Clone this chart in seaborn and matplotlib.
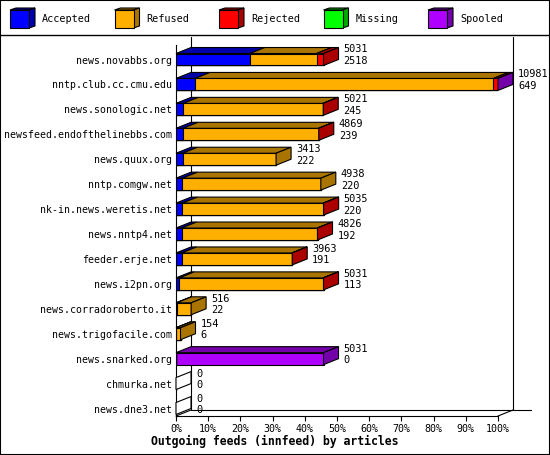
import numpy as np
import pandas as pd
import seaborn as sns
import matplotlib
matplotlib.use("Agg")
import matplotlib.pyplot as plt
from matplotlib.patches import Polygon, Rectangle

sns.set_theme(style="ticks", rc={"axes.edgecolor": "black", "xtick.color": "black",
                                 "ytick.color": "black", "text.color": "black"})
plt.rcParams["font.family"] = ["DejaVu Sans Mono", "DejaVu Sans"]

# %%
hosts = ["news.novabbs.org", "nntp.club.cc.cmu.edu", "news.sonologic.net",
         "newsfeed.endofthelinebbs.com", "news.quux.org", "nntp.comgw.net",
         "nk-in.news.weretis.net", "news.nntp4.net", "feeder.erje.net",
         "news.i2pn.org", "news.corradoroberto.it", "news.trigofacile.com",
         "news.snarked.org", "chmurka.net", "news.dne3.net"]
offered = [5031, 10981, 5021, 4869, 3413, 4938, 5035, 4826, 3963, 5031, 516, 154, 5031, 0, 0]
accepted = [2518, 649, 245, 239, 222, 220, 220, 192, 191, 113, 22, 6, 0, 0, 0]
refused = [2274, 10172, 4768, 4622, 3191, 4718, 4805, 4626, 3764, 4908, 494, 148, 0, 0, 0]
rejected = [239, 150, 8, 8, 0, 0, 10, 8, 8, 10, 0, 0, 0, 0, 0]
missing = [0] * 15
spooled = [0, 10, 0, 0, 0, 0, 0, 0, 0, 0, 0, 0, 5031, 0, 0]

series = ["Accepted", "Refused", "Rejected", "Missing", "Spooled"]
colors = ["#0000FF", "#FFAF00", "#FF0000", "#00FF00", "#AF00FF"]
darks = ["#0000AA", "#AA7400", "#AA0000", "#00AA00", "#7400AA"]

df = pd.DataFrame({"host": hosts, "Accepted": accepted, "Refused": refused,
                   "Rejected": rejected, "Missing": missing, "Spooled": spooled})
xmax = max(offered)
cum = df[series].cumsum(axis=1) / xmax

# %%
W, H = 550, 455
fig = plt.figure(figsize=(W / 100, H / 100), dpi=100)
fig.patch.set_facecolor("white")

# main axes: front plane from x=176..498 px, y=45..416 px
ax_l, ax_r, ax_t, ax_b = 176, 498, 45, 416
ax = fig.add_axes([ax_l / W, (H - ax_b) / H, (ax_r - ax_l) / W, (ax_b - ax_t) / H])

row0, ppr = 59.5, 24.93
ytop = -(row0 - ax_t) / ppr
ybot = (ax_b - row0) / ppr
ppx = ax_r - ax_l
dxd = 15 / ppx
dyd = 6 / ppr
bw = 0.48

for s, c in reversed(list(zip(series, colors))):
    sns.barplot(x=cum[s].values, y=hosts, color=c, saturation=1, width=bw,
                edgecolor="black", linewidth=0.8, orient="y", errorbar=None, ax=ax)

ax.set_xlim(0, 1)
ax.set_ylim(ybot, ytop)

# 3d top and side faces
for i in range(len(hosts)):
    t = i - bw / 2
    b = i + bw / 2
    prev = 0.0
    last = None
    for k, s in enumerate(series):
        x1 = cum[s].iloc[i]
        if x1 > prev:
            ax.add_patch(Polygon([(prev, t), (x1, t), (x1 + dxd, t - dyd), (prev + dxd, t - dyd)],
                                 closed=True, facecolor=darks[k], edgecolor="black",
                                 linewidth=0.8, clip_on=False, zorder=3))
            last = k
        prev = x1
    xe = prev
    ax.add_patch(Polygon([(xe, t), (xe, b), (xe + dxd, b - dyd), (xe + dxd, t - dyd)],
                         closed=True, facecolor=darks[last] if last is not None else "white",
                         edgecolor="black", linewidth=0.8, clip_on=False, zorder=3))
    tx = xe + dxd + 5 / ppx
    ax.text(tx, i - 10 / ppr, str(offered[i]), fontsize=7.4, va="center", ha="left")
    ax.text(tx, i + 1.5 / ppr, str(accepted[i]), fontsize=7.4, va="center", ha="left")

# back walls and floor
wall_top = ytop - 8 / ppr
lk = dict(color="black", linewidth=0.8, clip_on=False, zorder=0.5)
ax.plot([dxd, dxd], [wall_top, ybot - dyd], **lk)
ax.plot([1 + dxd, 1 + dxd], [wall_top, ybot - dyd], **lk)
ax.plot([dxd, (531 - ax_l) / ppx], [ybot - dyd, ybot - dyd], **lk)
ax.plot([0, dxd], [ybot, ybot - dyd], **lk)
ax.plot([1, 1 + dxd], [ybot, ybot - dyd], **lk)

ax.set_xticks(np.linspace(0, 1, 11))
ax.set_xticklabels([f"{p}%" for p in range(0, 101, 10)])
ax.tick_params(axis="x", length=3.6, width=0.8, pad=2, labelsize=7.2)
ax.tick_params(axis="y", length=0, pad=2.7, labelsize=7.15)
ax.set_xlabel("")
ax.set_ylabel("")
for sp in ["top", "right"]:
    ax.spines[sp].set_visible(False)
for sp in ["left", "bottom"]:
    ax.spines[sp].set_linewidth(0.8)
ax.set_facecolor("none")

fig.text(0.5, 14 / H, "Outgoing feeds (innfeed) by articles", ha="center", va="center",
         fontsize=8.3, fontweight="bold")

# legend strip
lax = fig.add_axes([0, (H - 35) / H, 1, 35 / H])
lax.set_xlim(0, W)
lax.set_ylim(35, 0)
lax.axis("off")
lax.plot([0, W], [34.5, 34.5], color="black", linewidth=1, clip_on=False)
for k, s in enumerate(series):
    x0 = 10 + k * 104.5
    lax.add_patch(Polygon([(x0, 10), (x0 + 19, 10), (x0 + 25, 8), (x0 + 6, 8)], closed=True,
                          facecolor=darks[k], edgecolor="black", linewidth=0.8))
    lax.add_patch(Polygon([(x0 + 19, 10), (x0 + 25, 8), (x0 + 25, 26), (x0 + 19, 28)], closed=True,
                          facecolor=darks[k], edgecolor="black", linewidth=0.8))
    lax.add_patch(Rectangle((x0, 10), 19, 18, facecolor=colors[k], edgecolor="black", linewidth=0.8))
    lax.text(x0 + 32, 19.5, s, fontsize=7.3, va="center", ha="left")

fig.add_artist(Rectangle((0, 0), 1, 1, transform=fig.transFigure, fill=False,
                         edgecolor="black", linewidth=1.5))

fig.savefig("out.png", dpi=100, facecolor="white")
